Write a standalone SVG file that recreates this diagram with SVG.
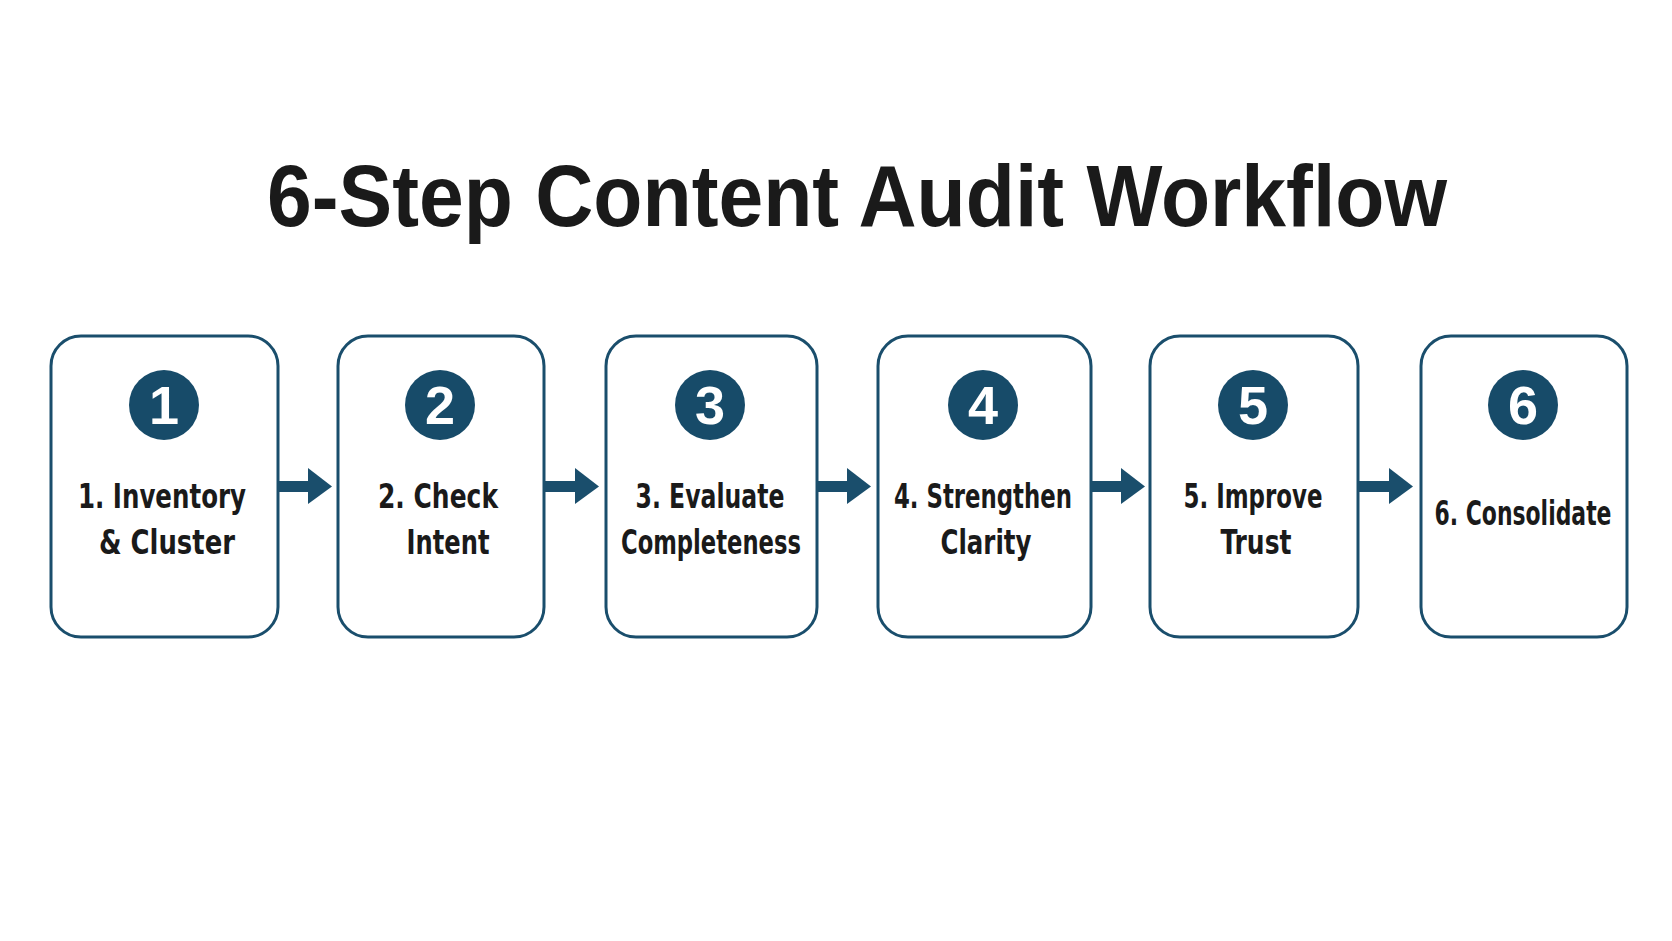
<svg xmlns="http://www.w3.org/2000/svg" width="1672" height="941" viewBox="0 0 1672 941">
<defs>
<style>
.box{fill:#ffffff;stroke:#1a4e6c;stroke-width:3}
.badge{fill:#174b69}
.num{font-family:"Liberation Sans",Arial,sans-serif;font-weight:bold;font-size:54px;fill:#ffffff;text-anchor:middle}
.lbl{font-family:"Liberation Sans Narrow","DejaVu Sans Condensed","Liberation Sans",sans-serif;font-weight:bold;font-size:33px;fill:#1a1a1a;text-anchor:middle}
.title{font-family:"Liberation Sans",Arial,sans-serif;font-weight:bold;font-size:87px;fill:#1a1a1a;text-anchor:middle}
.shaft{fill:none;stroke:#1a4e6c;stroke-width:11}
.head{fill:#1a4e6c}
</style>
</defs>
<rect width="1672" height="941" fill="#ffffff"/>
<text class="title" x="857" y="226" textLength="1180" lengthAdjust="spacingAndGlyphs">6-Step Content Audit Workflow</text>
<g id="connectors">
<line class="shaft" x1="278" y1="486.5" x2="310" y2="486.5"/><polygon class="head" points="308,468 332,486.5 308,504"/>
<line class="shaft" x1="544" y1="486.5" x2="577" y2="486.5"/><polygon class="head" points="575,468 599,486.5 575,504"/>
<line class="shaft" x1="817" y1="486.5" x2="849" y2="486.5"/><polygon class="head" points="847,468 871,486.5 847,504"/>
<line class="shaft" x1="1091" y1="486.5" x2="1123" y2="486.5"/><polygon class="head" points="1121,468 1145,486.5 1121,504"/>
<line class="shaft" x1="1358" y1="486.5" x2="1391" y2="486.5"/><polygon class="head" points="1389,468 1413,486.5 1389,504"/>
</g>
<g id="step1">
<rect class="box" x="51" y="336" width="227" height="301" rx="30"/>
<circle class="badge" cx="164" cy="405" r="35"/>
<text class="num" x="164" y="424">1</text>
<text class="lbl" x="162" y="508" textLength="168" lengthAdjust="spacingAndGlyphs">1. Inventory</text>
<text class="lbl" x="167" y="554" textLength="136" lengthAdjust="spacingAndGlyphs">&amp; Cluster</text>
</g>
<g id="step2">
<rect class="box" x="338" y="336" width="206" height="301" rx="30"/>
<circle class="badge" cx="440" cy="405" r="35"/>
<text class="num" x="440" y="424">2</text>
<text class="lbl" x="438" y="508" textLength="120" lengthAdjust="spacingAndGlyphs">2. Check</text>
<text class="lbl" x="448" y="554" textLength="83" lengthAdjust="spacingAndGlyphs">Intent</text>
</g>
<g id="step3">
<rect class="box" x="606" y="336" width="211" height="301" rx="30"/>
<circle class="badge" cx="710" cy="405" r="35"/>
<text class="num" x="710" y="424">3</text>
<text class="lbl" x="710" y="508" textLength="149" lengthAdjust="spacingAndGlyphs">3. Evaluate</text>
<text class="lbl" x="711" y="554" textLength="180" lengthAdjust="spacingAndGlyphs">Completeness</text>
</g>
<g id="step4">
<rect class="box" x="878" y="336" width="213" height="301" rx="30"/>
<circle class="badge" cx="983" cy="405" r="35"/>
<text class="num" x="983" y="424">4</text>
<text class="lbl" x="983" y="508" textLength="178" lengthAdjust="spacingAndGlyphs">4. Strengthen</text>
<text class="lbl" x="986" y="554" textLength="91" lengthAdjust="spacingAndGlyphs">Clarity</text>
</g>
<g id="step5">
<rect class="box" x="1150" y="336" width="208" height="301" rx="30"/>
<circle class="badge" cx="1253" cy="405" r="35"/>
<text class="num" x="1253" y="424">5</text>
<text class="lbl" x="1253" y="508" textLength="139" lengthAdjust="spacingAndGlyphs">5. Improve</text>
<text class="lbl" x="1256" y="554" textLength="71" lengthAdjust="spacingAndGlyphs">Trust</text>
</g>
<g id="step6">
<rect class="box" x="1421" y="336" width="206" height="301" rx="30"/>
<circle class="badge" cx="1523" cy="405" r="35"/>
<text class="num" x="1523" y="424">6</text>
<text class="lbl" x="1523" y="525" textLength="177" lengthAdjust="spacingAndGlyphs">6. Consolidate</text>
</g>
</svg>
